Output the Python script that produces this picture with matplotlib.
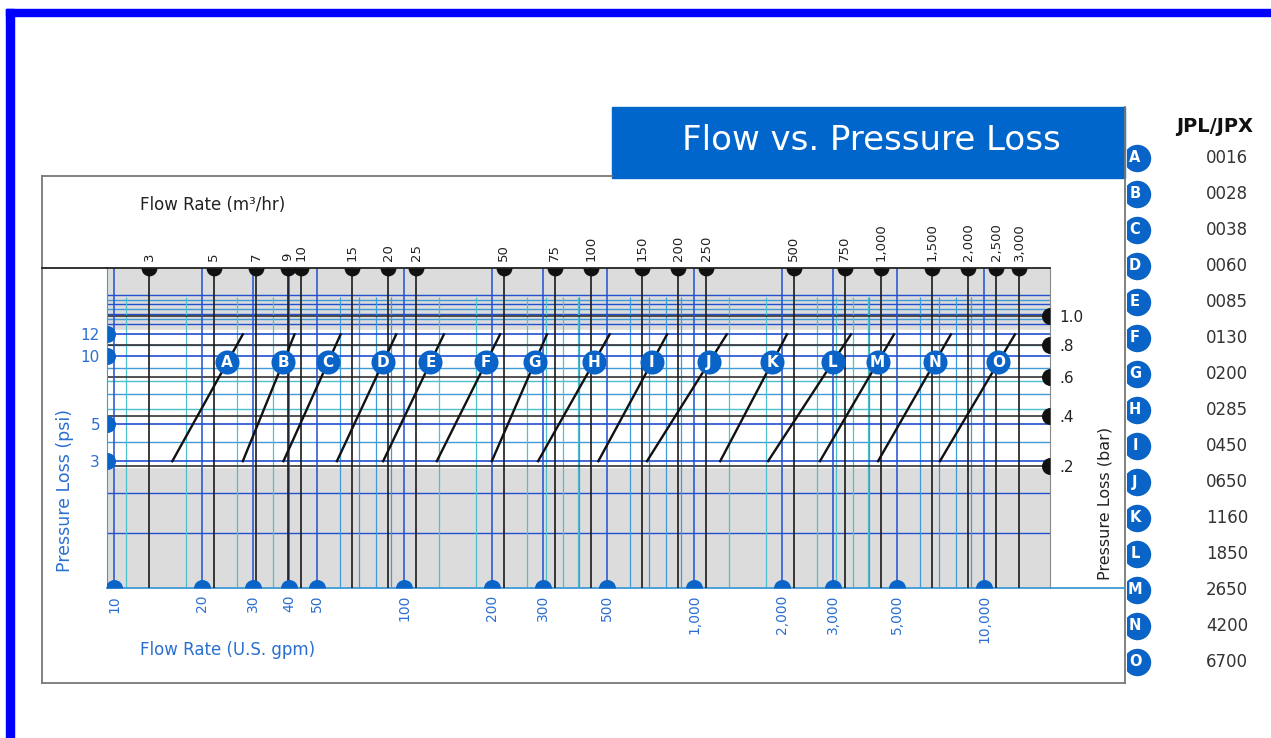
import matplotlib
matplotlib.use('Agg')
import matplotlib.pyplot as plt
import numpy as np
from matplotlib.patches import Rectangle
from matplotlib.markers import MarkerStyle
from matplotlib.ticker import NullLocator

# ---- data ----
models = list('ABCDEFGHIJKLMNO')
model_codes = ['0016', '0028', '0038', '0060', '0085', '0130', '0200', '0285',
               '0450', '0650', '1160', '1850', '2650', '4200', '6700']
# flow (m3/hr) where each model line starts (3 psi) and ends (12 psi)
flow_lo = [3.6, 6.3, 8.7, 13.3, 19.2, 29.4, 45.5, 65.7, 106, 156, 279, 408, 616, 977, 1597]
flow_hi = [6.3, 9.5, 13.7, 21.3, 31.1, 48.6, 70.5, 116, 183, 294, 474, 788, 1109, 1743, 2898]
psi_lo, psi_hi = 3, 12
label_psi = 9.5

m3_ticks = [3, 5, 7, 9, 10, 15, 20, 25, 50, 75, 100, 150, 200, 250, 500, 750,
            1000, 1500, 2000, 2500, 3000]
gpm_ticks = [10, 20, 30, 40, 50, 100, 200, 300, 500, 1000, 2000, 3000, 5000, 10000]
psi_ticks = [3, 5, 10, 12]
bar_ticks = [0.2, 0.4, 0.6, 0.8, 1.0]
bar_labels = ['.2', '.4', '.6', '.8', '1.0']

# extra grid lines (psi)
psi_grid_blue = [4, 7, 9, 11]
psi_grid_cyan = [6, 8]
psi_grid_top = [13, 13.5, 14, 14.5, 15, 15.5, 16]
psi_grid_low = [0.56, 1.7]

GPM_PER_M3 = 4.403
PSI_PER_BAR = 13.8   # as drawn on the chart

# ---- style ----
BLUE = '#2150d0'
LBLUE = '#3f9ad8'
CYAN = '#4cc0cc'
MARK = '#0a64c8'
TXT_BLUE = '#2a6fd0'
GRAY = '#dcdcdc'

W, H = 1271, 738
fig = plt.figure(figsize=(W / 100, H / 100), dpi=100)


def fy(py):
    return 1 - py / H


# page frame in pixel coords
frame = fig.add_axes([0, 0, 1, 1])
frame.set_xlim(0, W)
frame.set_ylim(H, 0)
frame.axis('off')
frame.add_patch(Rectangle((6, 9), W, 7, color='#0000ff'))
frame.add_patch(Rectangle((6, 9), 8, H, color='#0000ff'))
frame.plot([42, 612], [176, 176], color='#777777', lw=1.3)
frame.plot([42, 42], [176, 683], color='#777777', lw=1.3)
frame.plot([42, 1125], [683, 683], color='#777777', lw=1.3)
frame.plot([1125, 1125], [107, 683], color='#777777', lw=1.3)
frame.plot([42, 107], [268, 268], color='#222222', lw=1.3)
frame.plot([1050, 1125], [588, 588], color=LBLUE, lw=1.3)
frame.add_patch(Rectangle((612, 107), 513, 71, color='#0066cc'))
frame.text(871, 141, 'Flow vs. Pressure Loss', color='white', fontsize=24.5,
           ha='center', va='center')
frame.text(140, 205, 'Flow Rate (m³/hr)', fontsize=12, color='#222222',
           ha='left', va='center')
frame.text(140, 650, 'Flow Rate (U.S. gpm)', fontsize=12, color=TXT_BLUE,
           ha='left', va='center')
frame.text(65, 490, 'Pressure Loss (psi)', fontsize=12.5, color=TXT_BLUE,
           rotation=90, ha='center', va='center')
frame.text(1105, 503, 'Pressure Loss (bar)', fontsize=11.5, color='#222222',
           rotation=90, ha='center', va='center')

# ---- main nomograph ----
ax = fig.add_axes([107 / W, fy(588), (1050 - 107) / W, (588 - 268) / H])
ax.set_xscale('log')
ax.set_xlim(2.143, 3828)
fwd = lambda p: np.sqrt(np.clip(p, 0, None))
inv = lambda s: np.square(s)
ax.set_yscale('function', functions=(fwd, inv))
ax.set_ylim(0, 19.1)
ax.set_facecolor(GRAY)
ax.axhspan(2.75, 12.4, color='white', zorder=0)

# horizontal grid
ax.hlines(psi_grid_top[::2], 2.143, 3828, color=BLUE, lw=1.0, zorder=1)
ax.hlines(psi_grid_top[1::2], 2.143, 3828, color=LBLUE, lw=1.0, zorder=1)
ax.hlines(psi_grid_blue, 2.143, 3828, color=LBLUE, lw=1.0, zorder=1)
ax.hlines(psi_grid_cyan, 2.143, 3828, color=CYAN, lw=1.0, zorder=1)
ax.hlines(psi_grid_low, 2.143, 3828, color=BLUE, lw=1.0, zorder=1)
ax.hlines(psi_ticks, 2.143, 3828, color=BLUE, lw=1.2, zorder=2)
ax.hlines([b * PSI_PER_BAR for b in bar_ticks], 2.143, 3828, color='#333333',
          lw=1.2, zorder=2)

# vertical grid
dec = [1, 10, 100, 1000]
m3_minor = [s * d for d in dec for s in [1, 1.5, 2, 2.5, 3, 4, 5, 6, 7, 8, 9]
            if 2.2 < s * d < 3800 and s * d not in m3_ticks]
gpm_minor = [s * d for d in [10, 100, 1000] for s in range(2, 10)
             if s * d not in gpm_ticks]
ax.vlines(m3_minor, 0, 15.8, color=CYAN, lw=0.9, zorder=1)
ax.vlines([g / GPM_PER_M3 for g in gpm_minor], 0, 15.8, color=LBLUE, lw=0.9, zorder=1)
ax.vlines([g / GPM_PER_M3 for g in gpm_ticks], 0, 19.1, color=BLUE, lw=1.1, zorder=2)
ax.vlines(m3_ticks, 0, 19.1, color='#1a1a1a', lw=1.2, zorder=3)

# model lines + labels
t = (np.sqrt(label_psi) - np.sqrt(psi_lo)) / (np.sqrt(psi_hi) - np.sqrt(psi_lo))
for name, lo, hi in zip(models, flow_lo, flow_hi):
    ax.plot([lo, hi], [psi_lo, psi_hi], color='#111111', lw=1.7, zorder=4)
    xl = 10 ** (np.log10(lo) + t * (np.log10(hi) - np.log10(lo)))
    ax.scatter([xl], [label_psi], s=300, color=MARK, zorder=5, linewidths=0)
    ax.text(xl, label_psi, name, color='white', fontsize=11, fontweight='bold',
            ha='center', va='center', zorder=6)

# half-disc scale markers on the edges
half = lambda side: MarkerStyle('o', fillstyle=side)
ax.scatter(m3_ticks, [19.1] * len(m3_ticks), s=130, marker=half('bottom'),
           color='#111111', zorder=6, linewidths=0)
ax.scatter([g / GPM_PER_M3 for g in gpm_ticks], [0] * len(gpm_ticks), s=150,
           marker=half('top'), color=MARK, zorder=6, linewidths=0)
ax.scatter([2.143] * len(psi_ticks), psi_ticks, s=150, marker=half('right'),
           color=MARK, zorder=6, linewidths=0)
ax.scatter([3828] * len(bar_ticks), [b * PSI_PER_BAR for b in bar_ticks], s=150,
           marker=half('left'), color='#111111', zorder=6, linewidths=0)

# axes ticks / labels
ax.set_xticks([g / GPM_PER_M3 for g in gpm_ticks])
ax.set_xticklabels([f'{g:,}' for g in gpm_ticks], rotation=90, color=TXT_BLUE,
                   fontsize=10)
ax.xaxis.set_minor_locator(NullLocator())
ax.set_yticks(psi_ticks)
ax.set_yticklabels([str(p) for p in psi_ticks], color=TXT_BLUE, fontsize=11)
ax.yaxis.set_minor_locator(NullLocator())
ax.tick_params(length=0, pad=5)
ax.spines['top'].set_color('#222222')
ax.spines['top'].set_linewidth(1.3)
ax.spines['bottom'].set_color(LBLUE)
ax.spines['bottom'].set_linewidth(1.3)
ax.spines['left'].set_color(LBLUE)
ax.spines['right'].set_color('#888888')

top = ax.secondary_xaxis('top')
top.set_xticks(m3_ticks)
top.set_xticklabels([f'{v:,}' for v in m3_ticks], rotation=90, fontsize=9.5,
                    color='#222222')
top.xaxis.set_minor_locator(NullLocator())
top.tick_params(length=0, pad=5)
top.spines['top'].set_visible(False)

right = ax.twinx()
right.set_yscale('function', functions=(fwd, inv))
right.set_ylim(0, 19.1)
right.set_yticks([b * PSI_PER_BAR for b in bar_ticks])
right.set_yticklabels(bar_labels, fontsize=11, color='#222222')
right.yaxis.set_minor_locator(NullLocator())
right.tick_params(length=0, pad=7)
for s in right.spines.values():
    s.set_visible(False)

# ---- model legend on the right ----
leg = fig.add_axes([1127 / W, fy(690), (W - 1127) / W, (690 - 100) / H])
leg.set_xlim(1127, W)
leg.set_ylim(690, 100)
leg.axis('off')
leg.text(1215, 127, 'JPL/JPX', fontsize=14, fontweight='heavy', ha='center',
         va='center', color='#111111')
rows = 158 + 36 * np.arange(len(models))
leg.scatter([1137] * len(models), rows, s=390, color=MARK, linewidths=0,
            clip_on=True)
for y, name, code in zip(rows, models, model_codes):
    leg.text(1135, y, name, color='white', fontsize=10.5, fontweight='bold',
             ha='center', va='center')
    leg.text(1227, y, code, color='#333333', fontsize=12, ha='center', va='center')

fig.savefig('out.png', dpi=100)
